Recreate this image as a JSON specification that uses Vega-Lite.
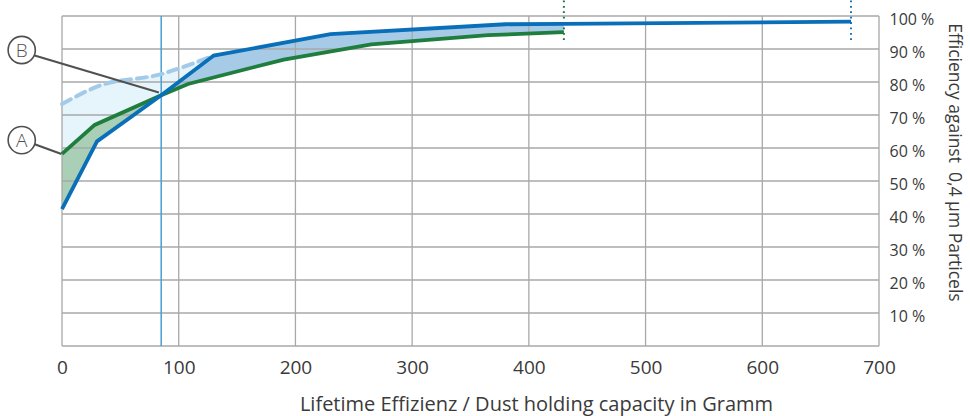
{
  "$schema": "https://vega.github.io/schema/vega-lite/v6.json",
  "width": 817,
  "height": 330,
  "autosize": "none",
  "padding": {"left": 62, "top": 16, "right": 91, "bottom": 70},
  "background": "white",
  "config": {
    "view": {"stroke": null},
    "font": "Open Sans",
    "axis": {"labelColor": "#3a3a3a", "titleColor": "#3a3a3a", "titleFontWeight": "normal", "labelFont": "Open Sans", "titleFont": "Open Sans"}
  },
  "datasets": {
    "curves": [
      {"s": "blue", "x": 0, "y": 41.5},
      {"s": "blue", "x": 30, "y": 62},
      {"s": "blue", "x": 85, "y": 76},
      {"s": "blue", "x": 130, "y": 88},
      {"s": "blue", "x": 230, "y": 94.5},
      {"s": "blue", "x": 380, "y": 97.5},
      {"s": "blue", "x": 430, "y": 97.6},
      {"s": "blue", "x": 676, "y": 98.3},
      {"s": "green", "x": 0, "y": 58.2},
      {"s": "green", "x": 28, "y": 67},
      {"s": "green", "x": 85, "y": 76},
      {"s": "green", "x": 108, "y": 79.4},
      {"s": "green", "x": 190, "y": 86.8},
      {"s": "green", "x": 265, "y": 91.4},
      {"s": "green", "x": 365, "y": 94.2},
      {"s": "green", "x": 430, "y": 95.1},
      {"s": "dashed", "x": 0, "y": 73.3},
      {"s": "dashed", "x": 30, "y": 78.6},
      {"s": "dashed", "x": 85, "y": 82.4},
      {"s": "dashed", "x": 130, "y": 88}
    ],
    "gx": [{"v": 0}, {"v": 100}, {"v": 200}, {"v": 300}, {"v": 400}, {"v": 500}, {"v": 600}, {"v": 700}],
    "gy": [{"v": 0}, {"v": 10}, {"v": 20}, {"v": 30}, {"v": 40}, {"v": 50}, {"v": 60}, {"v": 70}, {"v": 80}, {"v": 90}, {"v": 100}],
    "ends": [
      {"s": "green", "x": 430, "y0": 92.7, "y1": 104.8},
      {"s": "blue", "x": 676, "y0": 92.7, "y1": 104.8}
    ],
    "labels": [
      {"t": "B", "x": -34.5, "y": 89.7, "lx": -24.9, "ly": 88.2, "ex": 83, "ey": 76.8},
      {"t": "A", "x": -34.5, "y": 62.4, "lx": -24.6, "ly": 61.3, "ex": -0.5, "ey": 58.2}
    ]
  },
  "layer": [
    {
      "data": {"name": "curves"},
      "transform": [{"filter": "datum.s === 'dashed'"}],
      "mark": {"type": "area", "color": "#e6f4fb", "interpolate": "monotone"},
      "encoding": {
        "x": {"field": "x", "type": "quantitative", "scale": {"domain": [0, 700], "nice": false},
          "axis": {"values": [0, 100, 200, 300, 400, 500, 600, 700], "labelFlush": false, "labelOverlap": false, "grid": false, "domain": false, "ticks": false, "labelFontSize": 19, "labelPadding": 12, "title": "Lifetime Effizienz / Dust holding capacity in Gramm", "titleFontSize": 20, "titlePadding": 17, "titleX": 474}},
        "y": {"field": "y", "type": "quantitative", "scale": {"domain": [0, 100], "nice": false},
          "axis": {"orient": "right", "values": [10, 20, 30, 40, 50, 60, 70, 80, 90, 100], "tickCount": 10, "labelExpr": "datum.value + ' %'", "labelOverlap": false, "labelSeparation": 0, "labelOffset": 3, "grid": false, "domain": false, "ticks": false, "labelFontSize": 16, "labelPadding": 10, "title": "Efficiency against \u00a00,4 µm Particels", "titleFontSize": 17.5, "titlePadding": 11, "titleY": 146}},
        "y2": {"datum": 0}
      }
    },
    {
      "data": {"name": "curves"},
      "transform": [{"filter": "datum.s === 'green' && datum.x <= 85"}],
      "mark": {"type": "area", "color": "#a9cfb6"},
      "encoding": {"x": {"field": "x", "type": "quantitative"}, "y": {"field": "y", "type": "quantitative"}, "y2": {"datum": 0}}
    },
    {
      "data": {"name": "curves"},
      "transform": [{"filter": "datum.s === 'blue' && datum.x >= 85 && datum.x <= 430"}],
      "mark": {"type": "area", "color": "#a7cbe7"},
      "encoding": {"x": {"field": "x", "type": "quantitative"}, "y": {"field": "y", "type": "quantitative"}, "y2": {"datum": 0}}
    },
    {
      "data": {"name": "curves"},
      "transform": [{"filter": "datum.s === 'blue' && datum.x <= 85"}],
      "mark": {"type": "area", "color": "white", "stroke": "white", "strokeWidth": 1.5},
      "encoding": {"x": {"field": "x", "type": "quantitative"}, "y": {"field": "y", "type": "quantitative"}, "y2": {"datum": 0}}
    },
    {
      "data": {"name": "curves"},
      "transform": [{"filter": "datum.s === 'green' && datum.x >= 85"}],
      "mark": {"type": "area", "color": "white", "stroke": "white", "strokeWidth": 1.5},
      "encoding": {"x": {"field": "x", "type": "quantitative"}, "y": {"field": "y", "type": "quantitative"}, "y2": {"datum": 0}}
    },
    {
      "data": {"name": "gx"},
      "mark": {"type": "rule", "color": "#a8a8a8", "strokeWidth": 1.3},
      "encoding": {"x": {"field": "v", "type": "quantitative"}}
    },
    {
      "data": {"name": "gy"},
      "mark": {"type": "rule", "color": "#a8a8a8", "strokeWidth": 1.3},
      "encoding": {"y": {"field": "v", "type": "quantitative"}}
    },
    {
      "data": {"values": [{"x": 85}]},
      "mark": {"type": "rule", "color": "#4a9fd2", "strokeWidth": 1.5},
      "encoding": {"x": {"field": "x", "type": "quantitative"}}
    },
    {
      "data": {"name": "curves"},
      "transform": [{"filter": "datum.s === 'dashed'"}],
      "mark": {"type": "line", "color": "#a3cbe9", "strokeWidth": 4, "strokeDash": [10, 6], "interpolate": "monotone", "strokeCap": "round"},
      "encoding": {"x": {"field": "x", "type": "quantitative"}, "y": {"field": "y", "type": "quantitative"}}
    },
    {
      "data": {"name": "ends"},
      "mark": {"type": "rule", "strokeWidth": 2, "strokeDash": [1.8, 3.6]},
      "encoding": {
        "x": {"field": "x", "type": "quantitative"},
        "y": {"field": "y0", "type": "quantitative"},
        "y2": {"field": "y1"},
        "color": {"field": "s", "type": "nominal", "scale": {"domain": ["green", "blue"], "range": ["#1a7a3a", "#1a73ba"]}, "legend": null}
      }
    },
    {
      "data": {"name": "curves"},
      "transform": [{"filter": "datum.s === 'green'"}],
      "mark": {"type": "line", "color": "#1f7d3e", "strokeWidth": 3.8},
      "encoding": {"x": {"field": "x", "type": "quantitative"}, "y": {"field": "y", "type": "quantitative"}}
    },
    {
      "data": {"name": "curves"},
      "transform": [{"filter": "datum.s === 'blue'"}],
      "mark": {"type": "line", "color": "#0a6fb9", "strokeWidth": 3.8},
      "encoding": {"x": {"field": "x", "type": "quantitative"}, "y": {"field": "y", "type": "quantitative"}}
    },
    {
      "data": {"name": "labels"},
      "mark": {"type": "rule", "color": "#505050", "strokeWidth": 2},
      "encoding": {
        "x": {"field": "lx", "type": "quantitative"},
        "y": {"field": "ly", "type": "quantitative"},
        "x2": {"field": "ex"},
        "y2": {"field": "ey"}
      }
    },
    {
      "data": {"name": "labels"},
      "mark": {"type": "point", "shape": "circle", "size": 740, "filled": false, "fill": "white", "fillOpacity": 1, "stroke": "#505050", "strokeWidth": 1.6, "opacity": 1},
      "encoding": {"x": {"field": "x", "type": "quantitative"}, "y": {"field": "y", "type": "quantitative"}}
    },
    {
      "data": {"name": "labels"},
      "mark": {"type": "text", "fontSize": 19, "color": "#505050", "font": "Open Sans", "fontWeight": 300, "baseline": "middle", "align": "center", "dy": 1},
      "encoding": {"x": {"field": "x", "type": "quantitative"}, "y": {"field": "y", "type": "quantitative"}, "text": {"field": "t"}}
    }
  ]
}
